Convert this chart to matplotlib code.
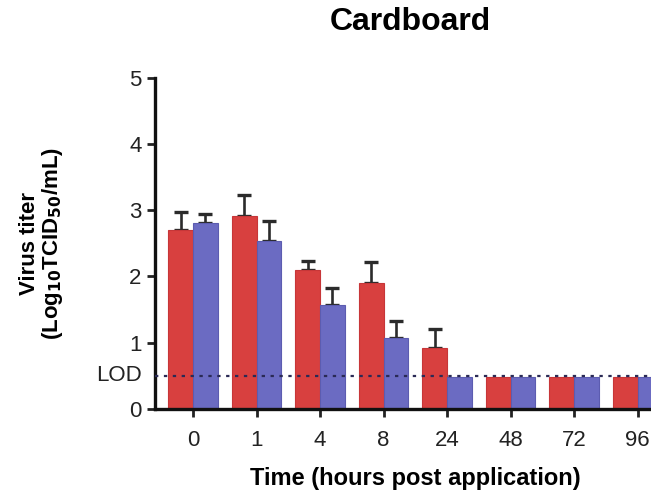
import numpy as np
import matplotlib.pyplot as plt

plt.rcParams['font.family'] = ['Liberation Sans', 'DejaVu Sans']

times = ['0', '1', '4', '8', '24', '48', '72', '96']
red_mean = [2.70, 2.91, 2.10, 1.90, 0.92, 0.48, 0.48, 0.48]
red_err = [0.27, 0.32, 0.13, 0.32, 0.29, 0, 0, 0]
blue_mean = [2.80, 2.54, 1.57, 1.07, 0.48, 0.48, 0.48, 0.48]
blue_err = [0.14, 0.29, 0.26, 0.25, 0, 0, 0, 0]
lod = 0.5

fig = plt.figure(figsize=(6.51, 4.98), dpi=100)
ax = fig.add_axes([0.238, 0.179, 0.80, 0.665])

x = np.arange(len(times))
w = 0.39
ekw = dict(fmt='none', ecolor='#2b2b2b', elinewidth=1.9, capsize=5, capthick=2.4, zorder=1)


def draw(pos, mean, err, color, edge):
    ax.bar(pos, mean, w, color=color, edgecolor=edge, linewidth=0.8, zorder=2)
    mean = np.array(mean)
    err = np.array(err)
    k = err > 0
    ax.errorbar(pos[k], mean[k], yerr=[np.zeros(k.sum()), err[k]], **ekw)


draw(x - w / 2, red_mean, red_err, '#d8403f', '#c73638')
draw(x + w / 2, blue_mean, blue_err, '#6b6bc2', '#5c5cb0')

ax.axhline(lod, color='#2a2a55', linestyle=(0, (1.5, 2.5)), linewidth=1.6, zorder=3)

ax.set_xlim(-0.6, 7.6)
ax.set_ylim(0, 5)
ax.set_xticks(x)
ax.set_xticklabels(times)
ax.set_yticks([0, 1, 2, 3, 4, 5])
ax.tick_params(axis='both', labelsize=16, width=2, length=6, direction='out', colors='#222222')
ax.tick_params(axis='x', pad=9)
ax.text(-0.8, lod, 'LOD', ha='right', va='center', fontsize=16, color='#222222')

for s in ['top', 'right']:
    ax.spines[s].set_visible(False)
for s in ['left', 'bottom']:
    ax.spines[s].set_linewidth(2.4)
    ax.spines[s].set_color('#111111')

ax.set_title('Cardboard', fontsize=23, fontweight='bold', pad=34, x=0.49)
ax.set_xlabel('Time (hours post application)', fontsize=17, fontweight='bold', labelpad=12)
ax.set_ylabel('Virus titer\n(Log$_{\\mathbf{10}}$TCID$_{\\mathbf{50}}$/mL)', fontsize=16,
              fontweight='bold', labelpad=46, linespacing=1.0)

fig.savefig('out.png', dpi=100)
